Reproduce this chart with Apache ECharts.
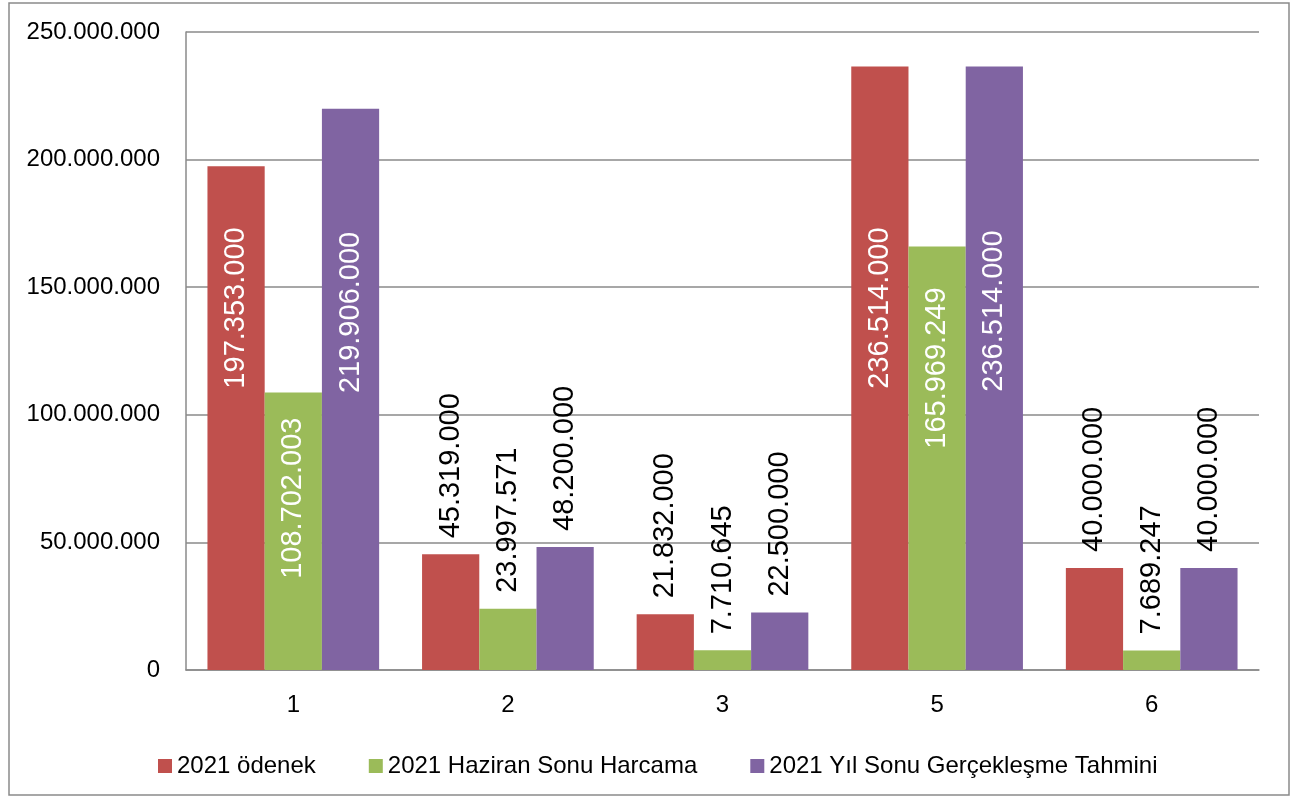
<!DOCTYPE html>
<html>
<head>
<meta charset="utf-8">
<title>2021 ödenek / harcama</title>
<script src="https://cdn.jsdelivr.net/npm/echarts@6/dist/echarts.min.js"></script>
<style>
  html, body { margin: 0; padding: 0; background: #fff; }
  #chart { width: 1293px; height: 798px; }
</style>
</head>
<body>
<div id="chart"></div>
<script>
// kategoriler ve seriler
const categories = ['1', '2', '3', '5', '6']
const seriesNames = ['2021 ödenek', '2021 Haziran Sonu Harcama', '2021 Yıl Sonu Gerçekleşme Tahmini']
const odenek = [197353000, 45319000, 21832000, 236514000, 40000000]
const haziranHarcama = [108702003, 23997571, 7710645, 165969249, 7689247]
const yilSonuTahmin = [219906000, 48200000, 22500000, 236514000, 40000000]

// etiket yerleşimi (null = çubuğun üstünde, sayı = çubuğun içinde, üstten px)
const insideGap = [
  [61, null, null, 161, null],
  [25, null, null, 41, null],
  [123, null, null, 164, null]
]

const colors = ['#C0504D', '#9BBB59', '#8064A2']
const font = "'Liberation Sans', Arial, sans-serif"

function fmt(v) {
  return String(Math.round(v)).replace(/\B(?=(\d{3})+(?!\d))/g, '.')
}

function buildSeries(idx, values) {
  return {
    name: seriesNames[idx],
    type: 'bar',
    barGap: 0,
    barCategoryGap: '20%',
    itemStyle: { color: colors[idx] },
    data: values.map((v, i) => {
      let gap = insideGap[idx][i]
      let label
      if (gap === null) {
        label = {
          show: true,
          position: 'top',
          distance: 16,
          rotate: 90,
          align: 'left',
          verticalAlign: 'middle',
          color: '#000'
        }
      } else {
        label = {
          show: true,
          position: 'insideTop',
          distance: gap,
          rotate: 90,
          align: 'right',
          verticalAlign: 'middle',
          color: '#fff'
        }
      }
      return { value: v, label: label }
    }),
    label: {
      fontFamily: font,
      fontSize: 29,
      formatter: p => fmt(p.value)
    }
  }
}

const chart = echarts.init(document.getElementById('chart'))
let option = {
  animation: false,
  backgroundColor: '#fff',
  textStyle: { fontFamily: font },
  graphic: [{
    type: 'rect',
    shape: { x: 9, y: 3, width: 1280, height: 792 },
    style: { fill: 'none', stroke: '#8a8a8a', lineWidth: 1.5 },
    silent: true,
    z: -1
  }],
  grid: {
    left: 186,
    right: 34,
    top: 32,
    bottom: 128
  },
  legend: {
    left: 153,
    top: 749,
    itemWidth: 14,
    itemHeight: 14,
    itemGap: 53,
    icon: 'rect',
    textStyle: { fontFamily: font, fontSize: 24, color: '#000' },
    data: seriesNames
  },
  xAxis: {
    type: 'category',
    data: categories,
    axisLine: { show: true, lineStyle: { color: '#8a8a8a', width: 1.5 } },
    axisTick: { show: false },
    axisLabel: { color: '#000', fontSize: 24, fontFamily: font, margin: 23 }
  },
  yAxis: {
    type: 'value',
    min: 0,
    max: 250000000,
    interval: 50000000,
    axisLine: { show: true, lineStyle: { color: '#8a8a8a', width: 1.5 } },
    axisTick: { show: false },
    splitLine: { show: true, lineStyle: { color: '#8a8a8a', width: 1.5 } },
    axisLabel: {
      color: '#000',
      fontSize: 24,
      fontFamily: font,
      margin: 26,
      formatter: v => fmt(v)
    }
  },
  series: [
    buildSeries(0, odenek),
    buildSeries(1, haziranHarcama),
    buildSeries(2, yilSonuTahmin)
  ]
}
chart.setOption(option)
</script>
</body>
</html>
